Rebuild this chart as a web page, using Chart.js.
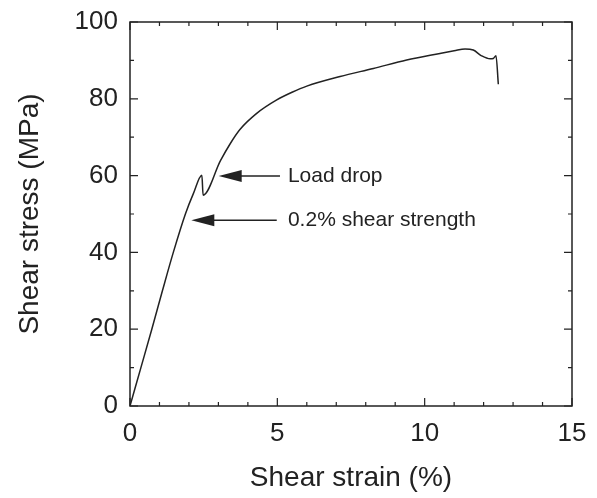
<!DOCTYPE html>
<html>
<head>
<meta charset="utf-8">
<script src="https://cdn.jsdelivr.net/npm/chart.js@4"></script>
<style>
  html, body { margin: 0; padding: 0; background: #fff; }
  canvas { display: block; }
</style>
</head>
<body>
<canvas id="myChart" width="597" height="498"></canvas>
<script>
// curve
var strain = [0, 0.37, 0.74, 1.10, 1.47, 1.88, 2.15, 2.44, 2.48, 3.07, 3.40, 3.73, 4.30, 4.98, 5.50, 6.00, 7.13, 8.26, 9.39, 10.52, 11.00, 11.37, 11.65, 11.93, 12.22, 12.33, 12.42, 12.50];
var stress = [0, 10, 20, 30, 40, 50, 55.3, 60.1, 54.9, 63.9, 68.3, 72.0, 76.2, 79.7, 81.7, 83.3, 85.8, 87.9, 90.1, 91.8, 92.5, 93.0, 92.7, 91.2, 90.4, 90.5, 91.2, 83.8];

var xTicks = [0, 5, 10, 15];
var yTicks = [0, 20, 40, 60, 80, 100];

// arrows: tip, tail and label (data units)
var noteText = ["Load drop", "0.2% shear strength"];
var noteTipX = [3.01, 2.08];
var noteTipY = [59.9, 48.4];
var noteTailX = [5.09, 4.98];
var noteTextX = [5.36, 5.36];

var ink = "#222";
var fontFamily = "'Liberation Sans', Arial, sans-serif";

var points = strain.map(function (x, i) { return { x: x, y: stress[i] }; });

// frame, inward ticks on all four sides, arrows and notes
var framePlugin = {
  id: "frame",
  afterDraw: function (chart) {
    var ctx = chart.ctx;
    var a = chart.chartArea;
    var xs = chart.scales.x;
    var ys = chart.scales.y;
    ctx.save();
    ctx.strokeStyle = ink;
    ctx.lineWidth = 1.5;
    ctx.strokeRect(a.left, a.top, a.right - a.left, a.bottom - a.top);

    ctx.lineWidth = 1.2;
    ctx.beginPath();
    for (var v = 0; v <= 15; v++) {
      var len = v % 5 === 0 ? 8 : 4;
      var px = xs.getPixelForValue(v);
      ctx.moveTo(px, a.bottom); ctx.lineTo(px, a.bottom - len);
      ctx.moveTo(px, a.top); ctx.lineTo(px, a.top + len);
    }
    for (var w = 0; w <= 100; w += 10) {
      var l2 = w % 20 === 0 ? 8 : 4;
      var py = ys.getPixelForValue(w);
      ctx.moveTo(a.left, py); ctx.lineTo(a.left + l2, py);
      ctx.moveTo(a.right, py); ctx.lineTo(a.right - l2, py);
    }
    ctx.stroke();

    ctx.fillStyle = ink;
    ctx.font = "21px " + fontFamily;
    ctx.textBaseline = "middle";
    for (var i = 0; i < noteText.length; i++) {
      var tx = xs.getPixelForValue(noteTipX[i]);
      var ty = ys.getPixelForValue(noteTipY[i]);
      var ex = xs.getPixelForValue(noteTailX[i]);
      ctx.lineWidth = 1.5;
      ctx.beginPath();
      ctx.moveTo(tx + 15, ty); ctx.lineTo(ex, ty);
      ctx.stroke();
      ctx.beginPath();
      ctx.moveTo(tx, ty);
      ctx.lineTo(tx + 23, ty - 6);
      ctx.lineTo(tx + 23, ty + 6);
      ctx.closePath();
      ctx.fill();
      ctx.fillText(noteText[i], xs.getPixelForValue(noteTextX[i]), ty);
    }
    ctx.restore();
  }
};

var myChart = new Chart(document.getElementById("myChart").getContext("2d"), {
  type: "scatter",
  data: {
    datasets: [{
      data: points,
      showLine: true,
      borderColor: ink,
      borderWidth: 1.5,
      pointRadius: 0,
      cubicInterpolationMode: "monotone",
      fill: false
    }]
  },
  options: {
    responsive: false,
    animation: false,
    devicePixelRatio: 1,
    layout: { padding: { top: 22, right: 25, left: 0, bottom: 0 } },
    plugins: { legend: { display: false }, tooltip: { enabled: false } },
    scales: {
      x: {
        type: "linear",
        min: 0,
        max: 15,
        afterBuildTicks: function (s) { s.ticks = xTicks.map(function (v) { return { value: v }; }); },
        afterFit: function (s) { s.height = 92; s.paddingLeft = 0; s.paddingRight = 0; },
        grid: { display: false, drawTicks: false },
        border: { display: false },
        ticks: { color: ink, font: { size: 26, family: fontFamily }, padding: 12, maxRotation: 0 },
        title: { display: true, text: "Shear strain (%)", color: ink, font: { size: 28, family: fontFamily }, padding: { top: 0, bottom: 3 } }
      },
      y: {
        type: "linear",
        min: 0,
        max: 100,
        afterBuildTicks: function (s) { s.ticks = yTicks.map(function (v) { return { value: v }; }); },
        afterFit: function (s) { s.width = 130; s.paddingTop = 0; s.paddingBottom = 0; },
        grid: { display: false, drawTicks: false },
        border: { display: false },
        ticks: { color: ink, font: { size: 26, family: fontFamily }, padding: 12 },
        title: { display: true, text: "Shear stress (MPa)", color: ink, font: { size: 28, family: fontFamily }, padding: { top: 13, bottom: 0 } }
      }
    }
  },
  plugins: [framePlugin]
});
</script>
</body>
</html>
